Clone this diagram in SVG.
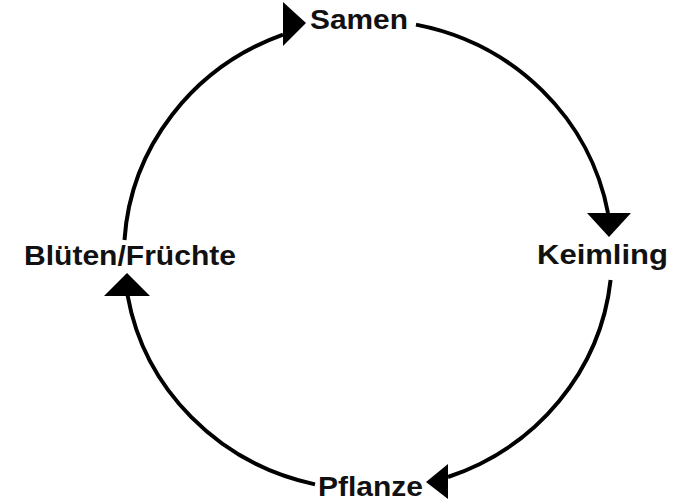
<svg xmlns="http://www.w3.org/2000/svg" width="687" height="503" viewBox="0 0 687 503">
<style>
.lbl{font-family:"Liberation Sans",Arial,sans-serif;font-weight:bold;font-size:28px;fill:#111}
.arc{fill:none;stroke:#000;stroke-width:4}
.head{fill:#000}
</style>
<rect width="687" height="503" fill="#fff"/>
<g id="connectors">
<path class="arc" d="M416,24.6 A244,235 0 0 1 608,213"/>
<polygon class="head" points="587,213 631,213 609,237"/>
<path class="arc" d="M610.6,280 A244,235 0 0 1 448,477"/>
<polygon class="head" points="448,464 448,499 426,482"/>
<path class="arc" d="M315,484.4 A244,235 0 0 1 127.5,295"/>
<polygon class="head" points="104,296 150,296 127,273"/>
<path class="arc" d="M124.5,240 A244,235 0 0 1 283,34.7"/>
<polygon class="head" points="283,2 283,46 306,23"/>
</g>
<g id="samen"><text class="lbl" x="310" y="29" textLength="98" lengthAdjust="spacingAndGlyphs">Samen</text></g>
<g id="keimling"><text class="lbl" x="537" y="264" textLength="131" lengthAdjust="spacingAndGlyphs">Keimling</text></g>
<g id="pflanze"><text class="lbl" x="318" y="496" textLength="105" lengthAdjust="spacingAndGlyphs">Pflanze</text></g>
<g id="blueten"><text class="lbl" x="24" y="265" textLength="212" lengthAdjust="spacingAndGlyphs">Blüten/Früchte</text></g>
</svg>
